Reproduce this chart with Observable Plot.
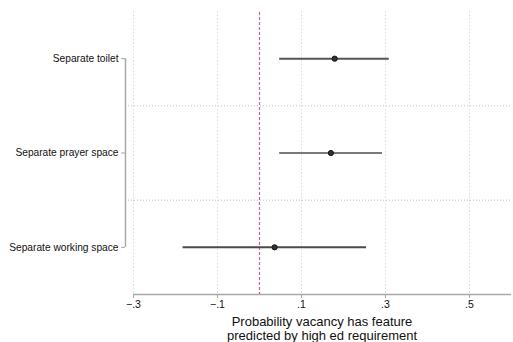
<!DOCTYPE html>
<html>
<head>
<meta charset="utf-8">
<script src="https://cdn.jsdelivr.net/npm/d3@7"></script>
<script src="https://cdn.jsdelivr.net/npm/@observablehq/plot@0.6"></script>
<style>
  html, body { margin: 0; padding: 0; background: #fff; }
  #chart { width: 513px; height: 314px; }
  #chart svg text { font-family: "Liberation Sans", Arial, sans-serif; }
  #title { margin-left: 133px; width: 378px; text-align: center; font-family: "Liberation Sans", Arial, sans-serif; font-size: 13px; line-height: 14px; color: #111; margin-top: 1px; }
</style>
</head>
<body>
<div id="chart"></div>
<div id="title"></div>
<script>
const categories = ["Separate toilet", "Separate prayer space", "Separate working space"];
const estimates = [0.179, 0.170, 0.036];
const lower = [0.048, 0.048, -0.182];
const upper = [0.309, 0.293, 0.255];
const lineColors = ["#555555", "#7a7a7a", "#4a4a4a"];
const xTicks = [-0.3, -0.1, 0.1, 0.3, 0.5];
const xTickLabels = ["\u2212.3", "\u2212.1", ".1", ".3", ".5"];
const xTitle = ["Probability vacancy has feature", "predicted by high ed requirement"];
const refValue = [0];

const rows = categories.map((c, i) => ({cat: c, idx: i, est: estimates[i], lo: lower[i], hi: upper[i], col: lineColors[i]}));
const xMin = -0.319, xMax = 0.6;
const idx = categories.map((_, i) => i);
const seps = idx.slice(1).map(i => i - 0.5);

const W = 513, H = 314;
const chart = Plot.plot({
  width: W,
  height: H,
  marginLeft: 125,
  marginRight: 2,
  marginTop: 11,
  marginBottom: 20,
  style: {fontFamily: "'Liberation Sans', Arial, sans-serif", fontSize: "10.2px", color: "#111", background: "#fff"},
  x: {domain: [xMin, xMax], axis: null},
  y: {domain: [-0.5, categories.length - 0.5], reverse: true, axis: null},
  marks: [
    Plot.ruleX(xTicks, {y1: -0.5, y2: categories.length - 0.5, stroke: "#dcdcdc", strokeWidth: 1, strokeDasharray: "1.5,2"}),
    Plot.ruleY(seps, {x1: xMin, x2: xMax, stroke: "#bdbdbd", strokeWidth: 1, strokeDasharray: "1,2"}),
    Plot.ruleX(refValue, {x: d => d, y1: -0.49, y2: categories.length - 0.5, stroke: () => "#cc5c9c", strokeWidth: 1.2, strokeDasharray: "3,2"}),
    Plot.ruleX([xMin], {y1: 0, y2: categories.length - 1, stroke: "#a8a8a8", strokeWidth: 1.5}),
    Plot.axisY(idx, {label: null, tickSize: 4, tickPadding: 3, tickFormat: i => categories[i], stroke: "#a8a8a8", fill: "#111", fontSize: 10.2}),
    Plot.ruleY([categories.length - 0.5], {x1: xTicks[0], x2: xMax, stroke: "#a8a8a8", strokeWidth: 1.5}),
    Plot.axisX(xTicks, {label: null, tickSize: 4, tickPadding: 2, tickFormat: (d, i) => xTickLabels[i], stroke: "#a8a8a8", fill: "#111", fontSize: 10.5}),
    Plot.ruleY(rows, {y: "idx", x1: "lo", x2: "hi", stroke: "col", strokeWidth: 2}),
    Plot.dot(rows, {x: "est", y: "idx", r: 2.6, fill: "#333", stroke: "#111", strokeWidth: 1})
  ]
});
document.getElementById("chart").appendChild(chart);
const t = document.getElementById("title");
xTitle.forEach(s => { const d = document.createElement("div"); d.textContent = s; t.appendChild(d); });
</script>
</body>
</html>
